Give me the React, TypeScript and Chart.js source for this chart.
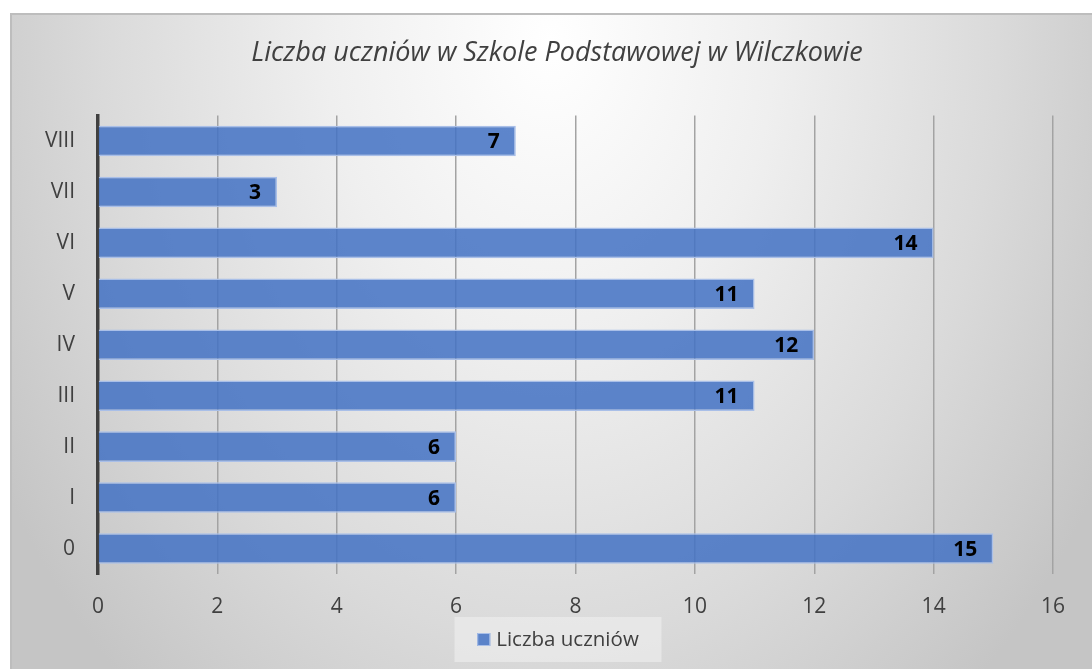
import React, { useEffect, useRef } from "react";
import { Chart, registerables } from "chart.js";

Chart.register(...registerables);

const categories = ["0", "I", "II", "III", "IV", "V", "VI", "VII", "VIII"];
const students = [15, 6, 6, 11, 12, 11, 14, 3, 7];
const seriesLabel = "Liczba uczniów";
const titleText = "Liczba uczniów w Szkole Podstawowej w Wilczkowie";
const xMax = 16;
const xStep = 2;

const FONT = "'Open Sans', 'DejaVu Sans', sans-serif";
const BAR_FILL = "rgba(68,114,196,0.86)";
const BAR_BORDER = "#a9bfe8";

const backgroundPlugin = {
  id: "bgPlugin",
  beforeDraw(chart: any) {
    const { ctx, width, height } = chart;
    ctx.save();
    ctx.fillStyle = "#ffffff";
    ctx.fillRect(0, 0, width, height);
    const fx = 10, fy = 13;
    const cx = 550, cy = 40, rx = 640, ry = 860;
    ctx.save();
    ctx.beginPath();
    ctx.rect(fx, fy, width - fx, height - fy);
    ctx.clip();
    ctx.translate(cx, cy);
    ctx.scale(1, ry / rx);
    const g = ctx.createRadialGradient(0, 0, 0, 0, 0, rx);
    g.addColorStop(0, "#ffffff");
    g.addColorStop(0.35, "#efefef");
    g.addColorStop(0.7, "#dadada");
    g.addColorStop(1, "#c5c5c5");
    ctx.fillStyle = g;
    ctx.fillRect(-cx - 10, -cy - 10, width + 40, (height + 40) * (rx / ry) + 40);
    ctx.restore();
    ctx.strokeStyle = "#bdbdbd";
    ctx.lineWidth = 2;
    ctx.beginPath();
    ctx.moveTo(fx + 1, height);
    ctx.lineTo(fx + 1, fy + 1);
    ctx.lineTo(width, fy + 1);
    ctx.stroke();
    ctx.restore();
  },
};

const titleLegendPlugin = {
  id: "titleLegend",
  afterDraw(chart: any) {
    const { ctx } = chart;
    ctx.save();
    // title
    ctx.font = `italic 27px ${FONT}`;
    ctx.fillStyle = "#404040";
    ctx.textAlign = "center";
    ctx.textBaseline = "middle";
    ctx.fillText(titleText, 557, 53);
    // legend
    ctx.font = `20.5px ${FONT}`;
    const tw = ctx.measureText(seriesLabel).width;
    const boxW = 13;
    const gap = 6;
    const itemW = boxW + gap + tw;
    const cxL = 558;
    const startX = cxL - itemW / 2;
    ctx.fillStyle = "rgba(236,236,236,0.7)";
    ctx.fillRect(cxL - 103.5, 617, 207, 45);
    ctx.fillStyle = BAR_FILL;
    ctx.fillRect(startX, 633, boxW, boxW);
    ctx.strokeStyle = BAR_BORDER;
    ctx.lineWidth = 1;
    ctx.strokeRect(startX + 0.5, 633.5, boxW - 1, boxW - 1);
    ctx.fillStyle = "#404040";
    ctx.textAlign = "left";
    ctx.fillText(seriesLabel, startX + boxW + gap, 640);
    ctx.restore();
  },
};

const dataLabelPlugin = {
  id: "dataLabels",
  afterDatasetsDraw(chart: any) {
    const { ctx } = chart;
    const meta = chart.getDatasetMeta(0);
    ctx.save();
    ctx.font = `bold 21px ${FONT}`;
    ctx.fillStyle = "#000000";
    ctx.textAlign = "right";
    ctx.textBaseline = "middle";
    meta.data.forEach((bar: any, i: number) => {
      const v = chart.data.datasets[0].data[i];
      ctx.fillText(String(v), bar.x - 16, bar.y + 1);
    });
    ctx.restore();
  },
};

export default function App() {
  const canvasRef = useRef<HTMLCanvasElement | null>(null);

  useEffect(() => {
    if (!canvasRef.current) return;
    const chart = new Chart(canvasRef.current, {
      type: "bar",
      data: {
        labels: categories,
        datasets: [
          {
            label: seriesLabel,
            data: students,
            backgroundColor: BAR_FILL,
            borderColor: BAR_BORDER,
            borderWidth: 1.5,
            barPercentage: 0.6,
            categoryPercentage: 1,
          },
        ],
      },
      options: {
        indexAxis: "y",
        animation: false,
        responsive: true,
        maintainAspectRatio: false,
        layout: { padding: { left: 10, right: 39, top: 115.5, bottom: 49.25 } },
        scales: {
          x: {
            min: 0,
            max: xMax,
            ticks: {
              stepSize: xStep,
              padding: 20,
              color: "#404040",
              font: { family: FONT, size: 21 },
            },
            grid: { color: "#a3a3a3", lineWidth: 1.5, drawTicks: false },
            border: { display: false },
            afterFit(scale: any) {
              scale.height = 45.75;
            },
          },
          y: {
            reverse: true,
            ticks: {
              padding: 23,
              color: "#404040",
              font: { family: FONT, size: 21 },
            },
            grid: { display: false, drawTicks: false },
            border: { display: true, color: "#404040", width: 3.5 },
            afterFit(scale: any) {
              scale.width = 88;
            },
          },
        },
        plugins: {
          title: { display: false },
          legend: { display: false },
          tooltip: { enabled: false },
        },
      },
      plugins: [backgroundPlugin, dataLabelPlugin, titleLegendPlugin],
    });
    return () => chart.destroy();
  }, []);

  return (
    <div style={{ position: "fixed", left: 0, top: 0, width: 1092, height: 669 }}>
      <canvas ref={canvasRef} />
    </div>
  );
}
